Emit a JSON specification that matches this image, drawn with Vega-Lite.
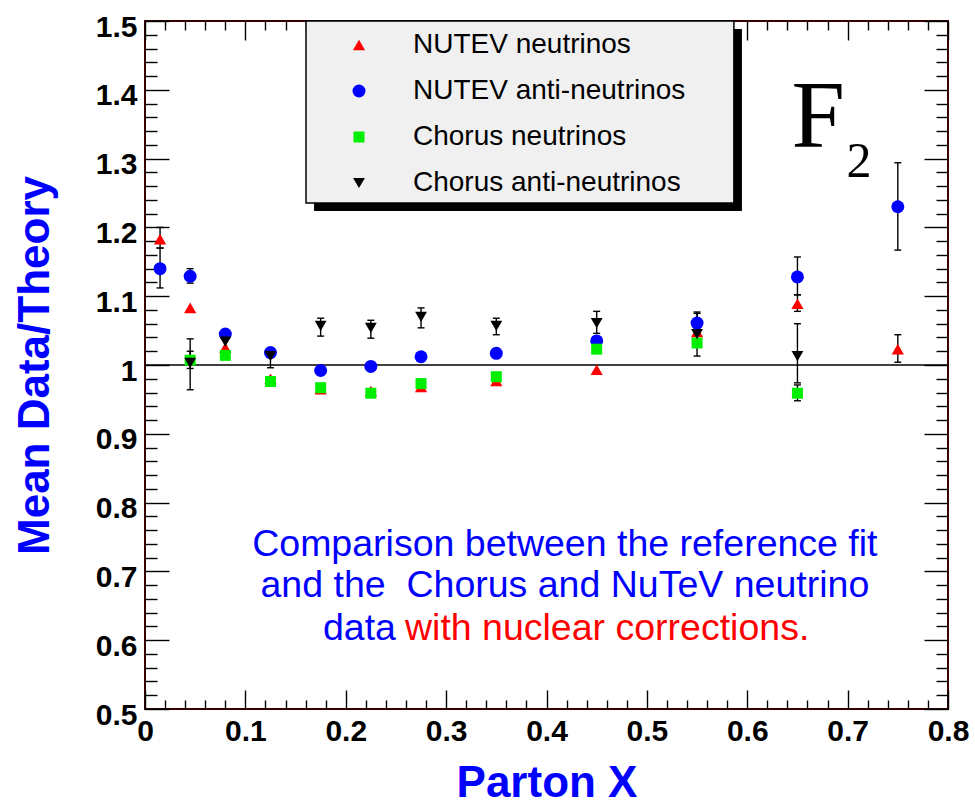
{
  "$schema": "https://vega.github.io/schema/vega-lite/v6.json",
  "width": 803,
  "height": 688,
  "autosize": "none",
  "padding": {"left": 145, "top": 21, "right": 27, "bottom": 98},
  "background": "white",
  "config": {
    "view": {"stroke": "#3a0000", "strokeWidth": 2},
    "axis": {
      "domain": false,
      "grid": false,
      "tickColor": "black",
      "tickWidth": 1.4,
      "labelFont": "Liberation Sans",
      "labelFontWeight": "bold",
      "labelFontSize": 30,
      "labelColor": "black",
      "labelFlush": false,
      "labelOverlap": false,
      "titleFont": "Liberation Sans",
      "titleFontWeight": "bold",
      "titleFontSize": 44,
      "titleColor": "#0000ff"
    }
  },
  "datasets": {
    "pts": [
      {"series": "NUTEV neutrinos", "x": 0.015, "v": 1.183, "lo": 1.17, "hi": 1.2},
      {"series": "NUTEV neutrinos", "x": 0.045, "v": 1.083, "lo": null, "hi": null},
      {"series": "NUTEV neutrinos", "x": 0.08, "v": 1.025, "lo": null, "hi": null},
      {"series": "NUTEV neutrinos", "x": 0.125, "v": 0.98, "lo": null, "hi": null},
      {"series": "NUTEV neutrinos", "x": 0.175, "v": 0.965, "lo": null, "hi": null},
      {"series": "NUTEV neutrinos", "x": 0.225, "v": 0.962, "lo": null, "hi": null},
      {"series": "NUTEV neutrinos", "x": 0.275, "v": 0.968, "lo": null, "hi": null},
      {"series": "NUTEV neutrinos", "x": 0.35, "v": 0.977, "lo": null, "hi": null},
      {"series": "NUTEV neutrinos", "x": 0.45, "v": 0.993, "lo": null, "hi": null},
      {"series": "NUTEV neutrinos", "x": 0.55, "v": 1.048, "lo": null, "hi": null},
      {"series": "NUTEV neutrinos", "x": 0.65, "v": 1.089, "lo": 1.078, "hi": 1.102},
      {"series": "NUTEV neutrinos", "x": 0.75, "v": 1.023, "lo": 1.004, "hi": 1.044},
      {"series": "NUTEV anti-neutrinos", "x": 0.015, "v": 1.14, "lo": 1.112, "hi": 1.17},
      {"series": "NUTEV anti-neutrinos", "x": 0.045, "v": 1.129, "lo": 1.119, "hi": 1.14},
      {"series": "NUTEV anti-neutrinos", "x": 0.08, "v": 1.045, "lo": null, "hi": null},
      {"series": "NUTEV anti-neutrinos", "x": 0.125, "v": 1.018, "lo": null, "hi": null},
      {"series": "NUTEV anti-neutrinos", "x": 0.175, "v": 0.992, "lo": null, "hi": null},
      {"series": "NUTEV anti-neutrinos", "x": 0.225, "v": 0.998, "lo": null, "hi": null},
      {"series": "NUTEV anti-neutrinos", "x": 0.275, "v": 1.012, "lo": null, "hi": null},
      {"series": "NUTEV anti-neutrinos", "x": 0.35, "v": 1.017, "lo": null, "hi": null},
      {"series": "NUTEV anti-neutrinos", "x": 0.45, "v": 1.035, "lo": null, "hi": null},
      {"series": "NUTEV anti-neutrinos", "x": 0.55, "v": 1.061, "lo": 1.054, "hi": 1.077},
      {"series": "NUTEV anti-neutrinos", "x": 0.65, "v": 1.128, "lo": 1.102, "hi": 1.157},
      {"series": "NUTEV anti-neutrinos", "x": 0.75, "v": 1.23, "lo": 1.167, "hi": 1.294},
      {"series": "Chorus neutrinos", "x": 0.045, "v": 1.007, "lo": 0.995, "hi": 1.02},
      {"series": "Chorus neutrinos", "x": 0.08, "v": 1.014, "lo": null, "hi": null},
      {"series": "Chorus neutrinos", "x": 0.125, "v": 0.976, "lo": null, "hi": null},
      {"series": "Chorus neutrinos", "x": 0.175, "v": 0.967, "lo": null, "hi": null},
      {"series": "Chorus neutrinos", "x": 0.225, "v": 0.959, "lo": null, "hi": null},
      {"series": "Chorus neutrinos", "x": 0.275, "v": 0.973, "lo": null, "hi": null},
      {"series": "Chorus neutrinos", "x": 0.35, "v": 0.983, "lo": null, "hi": null},
      {"series": "Chorus neutrinos", "x": 0.45, "v": 1.023, "lo": null, "hi": null},
      {"series": "Chorus neutrinos", "x": 0.55, "v": 1.032, "lo": null, "hi": null},
      {"series": "Chorus neutrinos", "x": 0.65, "v": 0.959, "lo": 0.948, "hi": 0.971},
      {"series": "Chorus anti-neutrinos", "x": 0.045, "v": 1.003, "lo": 0.964, "hi": 1.038},
      {"series": "Chorus anti-neutrinos", "x": 0.08, "v": 1.034, "lo": 1.012, "hi": 1.05},
      {"series": "Chorus anti-neutrinos", "x": 0.125, "v": 1.013, "lo": 0.996, "hi": 1.025},
      {"series": "Chorus anti-neutrinos", "x": 0.175, "v": 1.057, "lo": 1.042, "hi": 1.068},
      {"series": "Chorus anti-neutrinos", "x": 0.225, "v": 1.054, "lo": 1.039, "hi": 1.065},
      {"series": "Chorus anti-neutrinos", "x": 0.275, "v": 1.07, "lo": 1.054, "hi": 1.083},
      {"series": "Chorus anti-neutrinos", "x": 0.35, "v": 1.057, "lo": 1.044, "hi": 1.068},
      {"series": "Chorus anti-neutrinos", "x": 0.45, "v": 1.061, "lo": 1.046, "hi": 1.078},
      {"series": "Chorus anti-neutrinos", "x": 0.55, "v": 1.045, "lo": 1.013, "hi": 1.075},
      {"series": "Chorus anti-neutrinos", "x": 0.65, "v": 1.013, "lo": 0.974, "hi": 1.06}
    ],
    "one": [{}]
  },
  "layer": [
    {
      "data": {"name": "one"},
      "mark": {"type": "rule", "color": "black", "strokeWidth": 1.5},
      "encoding": {
        "x": {"datum": 0, "type": "quantitative", "scale": {"domain": [0, 0.8], "nice": false, "zero": false},
          "axis": {"orient": "top", "title": null, "labels": false,
            "values": [0,0.02,0.04,0.06,0.08,0.1,0.12,0.14,0.16,0.18,0.2,0.22,0.24,0.26,0.28,0.3,0.32,0.34,0.36,0.38,0.4,0.42,0.44,0.46,0.48,0.5,0.52,0.54,0.56,0.58,0.6,0.62,0.64,0.66,0.68,0.7,0.72,0.74,0.76,0.78,0.8],
            "tickSize": {"condition": {"test": "abs(datum.value*10 - round(datum.value*10)) < 0.001", "value": -19}, "value": -9}}},
        "x2": {"datum": 0.8},
        "y": {"datum": 1, "type": "quantitative", "scale": {"domain": [0.5, 1.5], "nice": false, "zero": false},
          "axis": {"orient": "right", "title": null, "labels": false,
            "values": [0.5,0.52,0.54,0.56,0.58,0.6,0.62,0.64,0.66,0.68,0.7,0.72,0.74,0.76,0.78,0.8,0.82,0.84,0.86,0.88,0.9,0.92,0.94,0.96,0.98,1,1.02,1.04,1.06,1.08,1.1,1.12,1.14,1.16,1.18,1.2,1.22,1.24,1.26,1.28,1.3,1.32,1.34,1.36,1.38,1.4,1.42,1.44,1.46,1.48,1.5],
            "tickSize": {"condition": {"test": "abs(datum.value*10 - round(datum.value*10)) < 0.001", "value": -24}, "value": -12}}}
      }
    },
    {
      "data": {"name": "pts"},
      "transform": [{"filter": "isValid(datum.lo)"}],
      "mark": {"type": "rule", "color": "black", "strokeWidth": 1.4},
      "encoding": {
        "x": {"field": "x", "type": "quantitative", "axis": null},
        "y": {"field": "lo", "type": "quantitative", "axis": null},
        "y2": {"field": "hi"}
      }
    },
    {
      "data": {"name": "pts"},
      "transform": [{"filter": "isValid(datum.lo)"}],
      "mark": {"type": "tick", "orient": "horizontal", "color": "black", "size": 7, "thickness": 1.4, "opacity": 1},
      "encoding": {
        "x": {"field": "x", "type": "quantitative", "axis": null},
        "y": {"field": "lo", "type": "quantitative", "axis": null}
      }
    },
    {
      "data": {"name": "pts"},
      "transform": [{"filter": "isValid(datum.hi)"}],
      "mark": {"type": "tick", "orient": "horizontal", "color": "black", "size": 7, "thickness": 1.4, "opacity": 1},
      "encoding": {
        "x": {"field": "x", "type": "quantitative", "axis": null},
        "y": {"field": "hi", "type": "quantitative", "axis": null}
      }
    },
    {
      "data": {"name": "pts"},
      "mark": {"type": "point", "filled": true, "opacity": 1, "strokeWidth": 0},
      "encoding": {
        "x": {"field": "x", "type": "quantitative", "scale": {"domain": [0, 0.8], "nice": false, "zero": false},
          "axis": {"orient": "bottom", "title": "Parton X", "titlePadding": 5, "labelPadding": 26,
            "values": [0,0.02,0.04,0.06,0.08,0.1,0.12,0.14,0.16,0.18,0.2,0.22,0.24,0.26,0.28,0.3,0.32,0.34,0.36,0.38,0.4,0.42,0.44,0.46,0.48,0.5,0.52,0.54,0.56,0.58,0.6,0.62,0.64,0.66,0.68,0.7,0.72,0.74,0.76,0.78,0.8],
            "labelExpr": "abs(datum.value*10 - round(datum.value*10)) < 0.001 ? format(datum.value, '~g') : ''",
            "tickSize": {"condition": {"test": "abs(datum.value*10 - round(datum.value*10)) < 0.001", "value": -19}, "value": -9}}},
        "y": {"field": "v", "type": "quantitative", "scale": {"domain": [0.5, 1.5], "nice": false, "zero": false},
          "axis": {"orient": "left", "title": "Mean Data/Theory", "titlePadding": 38, "labelPadding": 32, "labelOffset": 6,
            "values": [0.5,0.52,0.54,0.56,0.58,0.6,0.62,0.64,0.66,0.68,0.7,0.72,0.74,0.76,0.78,0.8,0.82,0.84,0.86,0.88,0.9,0.92,0.94,0.96,0.98,1,1.02,1.04,1.06,1.08,1.1,1.12,1.14,1.16,1.18,1.2,1.22,1.24,1.26,1.28,1.3,1.32,1.34,1.36,1.38,1.4,1.42,1.44,1.46,1.48,1.5],
            "labelExpr": "abs(datum.value*10 - round(datum.value*10)) < 0.001 ? format(datum.value, '~g') : ''",
            "tickSize": {"condition": {"test": "abs(datum.value*10 - round(datum.value*10)) < 0.001", "value": -24}, "value": -12}}},
        "color": {"field": "series", "type": "nominal",
          "scale": {"domain": ["NUTEV neutrinos", "NUTEV anti-neutrinos", "Chorus neutrinos", "Chorus anti-neutrinos"], "range": ["#ff0000", "#0000ff", "#00ee00", "#000000"]},
          "legend": {"orient": "none", "legendX": 200, "legendY": 10, "title": null, "padding": 0, "symbolOffset": 0, "labelOffset": 40, "labelLimit": 500, "rowPadding": 18, "symbolSize": 160, "labelFont": "Liberation Sans", "labelFontSize": 28, "labelColor": "black", "symbolStrokeWidth": 0}},
        "shape": {"field": "series", "type": "nominal",
          "scale": {"domain": ["NUTEV neutrinos", "NUTEV anti-neutrinos", "Chorus neutrinos", "Chorus anti-neutrinos"], "range": ["triangle-up", "circle", "square", "triangle-down"]},
          "legend": {"orient": "none", "legendX": 200, "legendY": 10, "title": null, "padding": 0, "symbolOffset": 0, "labelOffset": 40, "labelLimit": 500, "rowPadding": 18, "symbolSize": 160, "labelFont": "Liberation Sans", "labelFontSize": 28, "labelColor": "black", "symbolStrokeWidth": 0}},
        "size": {"field": "series", "type": "nominal",
          "scale": {"type": "ordinal", "domain": ["NUTEV neutrinos", "NUTEV anti-neutrinos", "Chorus neutrinos", "Chorus anti-neutrinos"], "range": [150, 169, 121, 140]},
          "legend": null}
      }
    },
    {
      "data": {"name": "one"},
      "mark": {"type": "rect", "color": "black", "opacity": 1},
      "encoding": {
        "x": {"datum": 0.1684, "type": "quantitative", "axis": null},
        "x2": {"datum": 0.5947},
        "y": {"datum": 1.4884, "type": "quantitative", "axis": null},
        "y2": {"datum": 1.2239}
      }
    },
    {
      "data": {"name": "one"},
      "mark": {"type": "rect", "fill": "#f0f0f0", "stroke": "black", "strokeWidth": 1.5, "opacity": 1},
      "encoding": {
        "x": {"datum": 0.1604, "type": "quantitative", "axis": null},
        "x2": {"datum": 0.5867},
        "y": {"datum": 1.5, "type": "quantitative", "axis": null},
        "y2": {"datum": 1.2355}
      }
    },
    {
      "data": {"name": "one"},
      "mark": {"type": "text", "text": "F", "font": "Liberation Serif", "fontSize": 96, "align": "left", "baseline": "alphabetic", "color": "black"},
      "encoding": {
        "x": {"datum": 0.644, "type": "quantitative", "axis": null},
        "y": {"datum": 1.317, "type": "quantitative", "axis": null}
      }
    },
    {
      "data": {"name": "one"},
      "mark": {"type": "text", "text": "2", "font": "Liberation Serif", "fontSize": 50, "align": "left", "baseline": "alphabetic", "color": "black"},
      "encoding": {
        "x": {"datum": 0.699, "type": "quantitative", "axis": null},
        "y": {"datum": 1.273, "type": "quantitative", "axis": null}
      }
    },
    {
      "data": {"name": "one"},
      "mark": {"type": "text", "text": "Comparison between the reference fit", "font": "Liberation Sans", "fontSize": 37.5, "align": "center", "baseline": "alphabetic", "color": "#0000ff"},
      "encoding": {
        "x": {"datum": 0.4183, "type": "quantitative", "axis": null},
        "y": {"datum": 0.7224, "type": "quantitative", "axis": null}
      }
    },
    {
      "data": {"name": "one"},
      "mark": {"type": "text", "text": "and the \u00a0Chorus and NuTeV neutrino", "font": "Liberation Sans", "fontSize": 37.5, "align": "center", "baseline": "alphabetic", "color": "#0000ff"},
      "encoding": {
        "x": {"datum": 0.4183, "type": "quantitative", "axis": null},
        "y": {"datum": 0.6628, "type": "quantitative", "axis": null}
      }
    },
    {
      "data": {"name": "one"},
      "mark": {"type": "text", "text": "data", "font": "Liberation Sans", "fontSize": 37.5, "align": "left", "baseline": "alphabetic", "color": "#0000ff"},
      "encoding": {
        "x": {"datum": 0.1773, "type": "quantitative", "axis": null},
        "y": {"datum": 0.6003, "type": "quantitative", "axis": null}
      }
    },
    {
      "data": {"name": "one"},
      "mark": {"type": "text", "text": "with nuclear corrections.", "font": "Liberation Sans", "fontSize": 37.5, "align": "left", "baseline": "alphabetic", "color": "#ff0000"},
      "encoding": {
        "x": {"datum": 0.259, "type": "quantitative", "axis": null},
        "y": {"datum": 0.6003, "type": "quantitative", "axis": null}
      }
    }
  ],
  "resolve": {"axis": {"x": "independent", "y": "independent"}}
}
